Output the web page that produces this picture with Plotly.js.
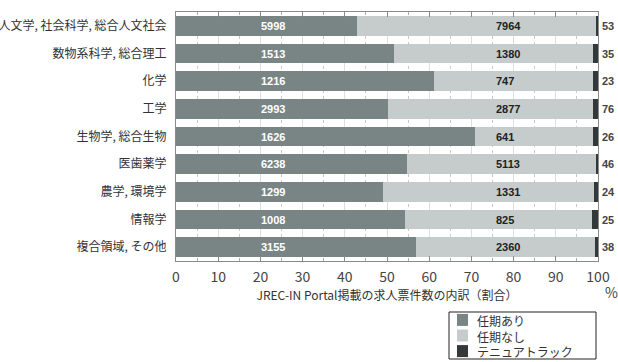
<!DOCTYPE html>
<html>
<head>
<meta charset="utf-8">
<script src="https://cdn.plot.ly/plotly-3.0.1.min.js"></script>
<style>html,body{margin:0;padding:0;background:#fff;}#chart{width:618px;height:362px;}</style>
</head>
<body>
<div id="chart"></div>
<script>
const categories = ['人文学, 社会科学, 総合人文社会', '数物系科学, 総合理工', '化学', '工学', '生物学, 総合生物', '医歯薬学', '農学, 環境学', '情報学', '複合領域, その他'];
const seriesNames = ['任期あり', '任期なし', 'テニュアトラック'];
const fixedTerm = [5998, 1513, 1216, 2993, 1626, 6238, 1299, 1008, 3155];
const noTerm = [7964, 1380, 747, 2877, 641, 5113, 1331, 825, 2360];
const tenureTrack = [53, 35, 23, 76, 26, 46, 24, 25, 38];
const xTicks = [0, 10, 20, 30, 40, 50, 60, 70, 80, 90, 100];

const colors = ['#788584', '#c6cccb', '#333939'];
const allSeries = [fixedTerm, noTerm, tenureTrack];

// plot-area geometry (pixels) for layout-only helpers
const W = 618, H = 362, ML = 176, MR = 20, MT = 12, MB = 101;
const PW = W - ML - MR, PH = H - MT - MB;
const px = v => (v - ML) / PW;
const py = v => (H - MB - v) / PH;

const traces = allSeries.map((vals, i) => ({
  type: 'bar', orientation: 'h', name: seriesNames[i],
  y: categories, x: vals,
  marker: {color: colors[i], line: {width: 0}},
  hoverinfo: 'x+y+name', showlegend: false
}));

const numFont = 'Liberation Sans, Arial, sans-serif';
const jpFont = 'Noto Sans CJK JP, sans-serif';
const annotations = [];
categories.forEach((c, i) => {
  annotations.push({x: 19.6, y: c, xref: 'x', yref: 'y', text: String(fixedTerm[i]), showarrow: false, xanchor: 'left',
    font: {family: numFont, size: 11, color: '#ffffff', weight: 'bold'}});
  annotations.push({x: 75.3, y: c, xref: 'x', yref: 'y', text: String(noTerm[i]), showarrow: false, xanchor: 'left',
    font: {family: numFont, size: 11, color: '#222222', weight: 'bold'}});
  annotations.push({x: 100, y: c, xref: 'x', yref: 'y', text: String(tenureTrack[i]), showarrow: false, xanchor: 'left', xshift: 2,
    font: {family: numFont, size: 11, color: '#444444', weight: 'bold'}});
});
annotations.push({x: 1, y: 0, xref: 'paper', yref: 'paper', text: '%', showarrow: false, xanchor: 'left', yanchor: 'top',
  xshift: 6, yshift: -20, borderpad: 0, font: {family: jpFont, size: 14, color: '#444'}});

// legend drawn as a box with swatches (matches the compact reference legend)
const legTop = 312, legBottom = 359, lineGap = 15.6;
const legMid = (legTop + legBottom) / 2;
const shapes = [{type: 'rect', xref: 'paper', yref: 'paper', x0: px(449), x1: px(596), y0: py(legTop), y1: py(legBottom),
  line: {color: '#222', width: 1}, fillcolor: 'rgba(0,0,0,0)'}];
seriesNames.forEach((n, i) => {
  const cy = legMid + (i - 1) * lineGap;
  shapes.push({type: 'rect', xref: 'paper', yref: 'paper', x0: px(457), x1: px(468), y0: py(cy - 6), y1: py(cy + 6),
    line: {width: 0}, fillcolor: colors[i]});
});
annotations.push({x: px(476), y: py(legMid), xref: 'paper', yref: 'paper', text: seriesNames.join('<br>'), showarrow: false,
  xanchor: 'left', yanchor: 'middle', align: 'left', borderpad: 0, font: {family: jpFont, size: 12, color: '#333'}});

const layout = {
  width: W, height: H,
  margin: {l: ML, r: MR, t: MT, b: MB},
  paper_bgcolor: '#ffffff', plot_bgcolor: '#ffffff',
  barmode: 'stack', barnorm: 'percent', bargap: 0.3,
  showlegend: false,
  xaxis: {
    range: [0, 100], tickvals: xTicks, ticktext: xTicks.map(String),
    showline: true, linecolor: '#8a8a8a', linewidth: 1, mirror: 'ticks',
    ticks: 'inside', ticklen: 5, tickcolor: '#8a8a8a',
    showgrid: true, gridcolor: '#dedede', gridwidth: 1, zeroline: false,
    minor: {dtick: 5, tick0: 0, ticks: 'inside', ticklen: 3, tickcolor: '#aaa', showgrid: true, gridcolor: '#c8c8c8', griddash: 'dot', gridwidth: 1},
    tickfont: {family: jpFont, size: 14, color: '#444'}, ticklabelstandoff: 3,
    title: {text: 'JREC-IN Portal掲載の求人票件数の内訳（割合）', standoff: 4,
      font: {family: jpFont, size: 12, color: '#333'}},
    automargin: false, fixedrange: true
  },
  yaxis: {
    autorange: 'reversed', type: 'category',
    showline: true, linecolor: '#8a8a8a', mirror: true, showgrid: false,
    ticks: '', ticklabelstandoff: 6,
    tickfont: {family: jpFont, size: 12, color: '#333'},
    automargin: false, fixedrange: true
  },
  shapes: shapes,
  annotations: annotations
};

Plotly.newPlot('chart', traces, layout, {displayModeBar: false, staticPlot: true});
</script>
</body>
</html>
